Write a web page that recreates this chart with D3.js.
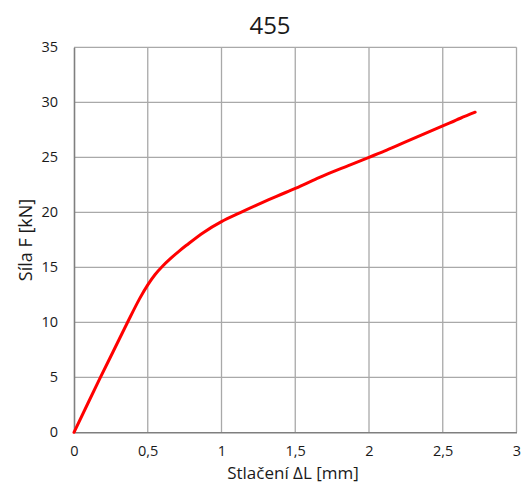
<!DOCTYPE html>
<html>
<head>
<meta charset="utf-8">
<script src="https://cdn.jsdelivr.net/npm/d3@7/dist/d3.min.js"></script>
<style>
  html, body { margin: 0; padding: 0; background: #fff; }
  svg text { font-family: "Open Sans", "Liberation Sans", sans-serif; fill: #1a1a1a; }
</style>
</head>
<body>
<svg id="chart" width="524" height="490"></svg>
<script>
// Compression test of specimen 455: force vs. shortening
const chartTitle = "455";
const xTitle = "Stlačení ΔL [mm]";
const yTitle = "Síla F [kN]";

const shortening = [0, 0.174, 0.264, 0.365, 0.445, 0.5, 0.55, 0.6, 0.648, 0.715, 0.762, 0.876, 1.0, 1.124, 1.238, 1.373, 1.505, 1.62, 1.72, 1.86, 2.0, 2.12, 2.24, 2.37, 2.5, 2.62, 2.72];
const force      = [0, 4.85,  7.3,   10.05, 12.15, 13.4, 14.35, 15.1, 15.72, 16.5, 17.0, 18.15, 19.15, 19.95, 20.65, 21.45, 22.2, 22.9, 23.5, 24.25, 25.0, 25.65, 26.35, 27.1, 27.85, 28.55, 29.1];

const xTicks = [0, 0.5, 1, 1.5, 2, 2.5, 3];
const yTicks = [0, 5, 10, 15, 20, 25, 30, 35];

const fmt = v => String(v).replace(".", ",");

const svg = d3.select("#chart");
const margin = { left: 74, right: 7, top: 47, bottom: 58 };
const W = 524, H = 490;

const x = d3.scaleLinear().domain([0, 3]).range([margin.left, W - margin.right - 0.5]);
const y = d3.scaleLinear().domain([0, 35]).range([H - margin.bottom + 0.3, margin.top + 0.3]);

// gridlines
const grid = svg.append("g").attr("stroke", "#a9a9a9").attr("stroke-width", 1.3);
grid.selectAll("line.v").data(xTicks.slice(1)).join("line")
  .attr("x1", d => x(d)).attr("x2", d => x(d))
  .attr("y1", y(0)).attr("y2", y(35));
grid.selectAll("line.h").data(yTicks.slice(1)).join("line")
  .attr("x1", x(0)).attr("x2", x(3))
  .attr("y1", d => y(d)).attr("y2", d => y(d));

// axes
const xAxis = d3.axisBottom(x).tickValues(xTicks).tickFormat(fmt).tickSize(0).tickPadding(13);
const yAxis = d3.axisLeft(y).tickValues(yTicks).tickFormat(fmt).tickSize(0).tickPadding(16);

const gx = svg.append("g").attr("transform", `translate(0,${y(0)})`).call(xAxis);
const gy = svg.append("g").attr("transform", `translate(${x(0)},0)`).call(yAxis);
[gx, gy].forEach(g => {
  g.select(".domain").attr("stroke", "#7f7f7f").attr("stroke-width", 1.6);
  g.selectAll("text").attr("font-size", 14.5).attr("fill", "#1a1a1a")
    .attr("font-family", "'Open Sans', sans-serif");
});

// data line
const pts = shortening.map((v, i) => [v, force[i]]);
svg.append("path")
  .datum(pts)
  .attr("fill", "none")
  .attr("stroke", "#ff0000")
  .attr("stroke-width", 3)
  .attr("stroke-linecap", "round")
  .attr("stroke-linejoin", "round")
  .attr("d", d3.line().x(d => x(d[0])).y(d => y(d[1])).curve(d3.curveCatmullRom.alpha(0.5)));

// titles
svg.append("text").attr("x", 270).attr("y", 34).attr("text-anchor", "middle")
  .attr("font-size", 24).text(chartTitle);
svg.append("text").attr("x", 293).attr("y", 478.5).attr("text-anchor", "middle")
  .attr("font-size", 17).text(xTitle);
svg.append("text").attr("transform", "translate(32,240) rotate(-90)")
  .attr("text-anchor", "middle").attr("font-size", 18).text(yTitle);
</script>
</body>
</html>
